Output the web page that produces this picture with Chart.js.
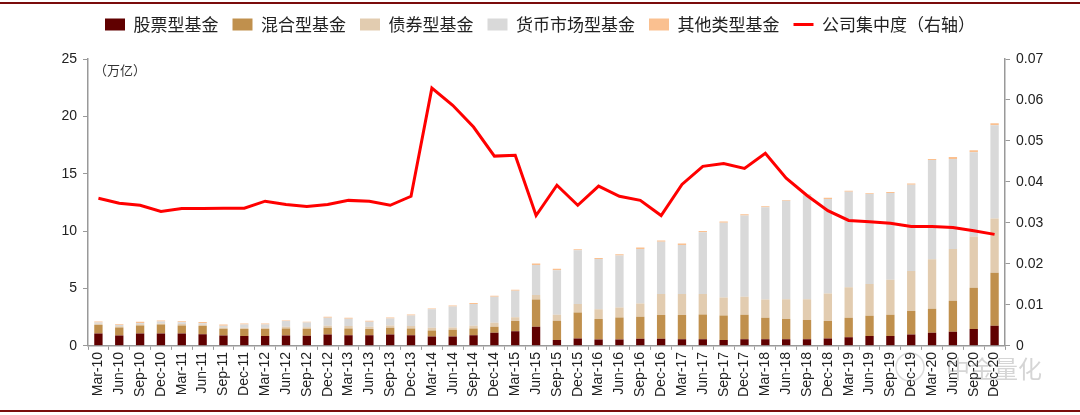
<!DOCTYPE html>
<html>
<head>
<meta charset="utf-8">
<script src="https://cdn.jsdelivr.net/npm/chart.js@4/dist/chart.umd.min.js"></script>
<style>
html,body{margin:0;padding:0;background:#fff;}
#wrap{position:relative;width:1080px;height:415px;}
canvas{display:block;}
</style>
</head>
<body>
<div id="wrap"><canvas id="c" width="1080" height="415"></canvas></div>
<script>
const categories = ["Mar-10","Jun-10","Sep-10","Dec-10","Mar-11","Jun-11","Sep-11","Dec-11","Mar-12","Jun-12","Sep-12","Dec-12","Mar-13","Jun-13","Sep-13","Dec-13","Mar-14","Jun-14","Sep-14","Dec-14","Mar-15","Jun-15","Sep-15","Dec-15","Mar-16","Jun-16","Sep-16","Dec-16","Mar-17","Jun-17","Sep-17","Dec-17","Mar-18","Jun-18","Sep-18","Dec-18","Mar-19","Jun-19","Sep-19","Dec-19","Mar-20","Jun-20","Sep-20","Dec-20"];

const stockFund = [1.08,0.90,1.08,1.08,1.08,1.02,0.90,0.85,0.85,0.90,0.88,0.99,0.93,0.93,0.99,0.93,0.82,0.82,0.93,1.14,1.28,1.66,0.50,0.64,0.55,0.55,0.61,0.61,0.58,0.58,0.52,0.58,0.58,0.58,0.58,0.64,0.76,0.85,0.85,0.99,1.14,1.22,1.46,1.75];
const mixedFund = [0.73,0.70,0.70,0.78,0.70,0.70,0.59,0.61,0.61,0.61,0.60,0.58,0.59,0.53,0.58,0.59,0.52,0.58,0.59,0.52,0.88,2.39,1.69,2.27,1.78,1.93,1.93,2.07,2.10,2.16,2.13,2.13,1.87,1.77,1.68,1.52,1.69,1.77,1.86,2.04,2.09,2.71,3.61,4.63];
const bondFund = [0.11,0.10,0.11,0.08,0.12,0.12,0.12,0.12,0.12,0.15,0.14,0.18,0.20,0.20,0.21,0.20,0.23,0.20,0.23,0.35,0.34,0.38,0.52,0.73,0.85,0.87,1.16,1.84,1.84,1.78,1.57,1.57,1.60,1.72,1.81,2.41,2.65,2.77,3.06,3.50,4.32,4.52,4.46,4.72];
const moneyFund = [0.12,0.11,0.11,0.19,0.15,0.14,0.15,0.28,0.28,0.50,0.42,0.70,0.65,0.44,0.61,0.93,1.63,1.84,1.89,2.27,2.31,2.62,3.89,4.69,4.40,4.52,4.75,4.55,4.28,5.38,6.50,7.08,8.02,8.57,9.04,8.23,8.33,7.84,7.55,7.51,8.65,7.83,7.34,8.13];
const otherFund = [0.09,0.08,0.10,0.08,0.10,0.10,0.10,0.09,0.09,0.06,0.06,0.08,0.08,0.09,0.09,0.09,0.06,0.08,0.09,0.09,0.09,0.12,0.13,0.09,0.08,0.11,0.12,0.11,0.12,0.12,0.12,0.12,0.10,0.08,0.09,0.10,0.09,0.07,0.08,0.12,0.09,0.17,0.18,0.17];
const concentration = [0.0360,0.0348,0.0343,0.0328,0.0335,0.0335,0.0336,0.0336,0.0353,0.0345,0.0340,0.0345,0.0355,0.0353,0.0343,0.0365,0.0629,0.0587,0.0534,0.0463,0.0465,0.0318,0.0392,0.0343,0.0390,0.0365,0.0355,0.0318,0.0394,0.0438,0.0445,0.0433,0.0470,0.0409,0.0367,0.0330,0.0306,0.0303,0.0299,0.0291,0.0291,0.0289,0.0281,0.0272];

const leftTicks = [0,5,10,15,20,25];
const rightTicks = [0,0.01,0.02,0.03,0.04,0.05,0.06,0.07];

const seriesNames = ["股票型基金","混合型基金","债券型基金","货币市场型基金","其他类型基金","公司集中度（右轴）"];
const unitLabel = "（万亿）";
const watermark = "中金量化";

const CJK = '"Noto Sans CJK SC", "Noto Sans", sans-serif';
const LAT = '"Liberation Sans", Arial, sans-serif';

const legendSpace = {
  id: 'legendSpace',
  afterInit(chart) {
    const lg = chart.legend;
    if (lg && !lg._patched) {
      const orig = lg.fit;
      lg.fit = function () { orig.call(this); this.height += 16; };
      lg._patched = true;
    }
  }
};

const decor = {
  id: 'decor',
  afterDraw(chart) {
    const ctx = chart.ctx;
    const a = chart.chartArea;
    ctx.save();
    ctx.fillStyle = '#7a0c0c';
    ctx.fillRect(0, 2, 1080, 2);
    ctx.fillRect(0, 410, 1080, 2);
    ctx.fillStyle = '#333';
    ctx.font = '13px ' + CJK;
    ctx.textBaseline = 'middle';
    ctx.textAlign = 'left';
    ctx.fillText(unitLabel, a.left + 6, a.top + 11);
    ctx.globalAlpha = 0.35;
    ctx.fillStyle = '#888';
    ctx.font = '24px ' + CJK;
    ctx.textAlign = 'left';
    ctx.fillText(watermark, 946, 369);
    ctx.strokeStyle = '#999';
    ctx.lineWidth = 1.5;
    ctx.beginPath();
    ctx.arc(910, 367, 14, 0, Math.PI * 2);
    ctx.stroke();
    ctx.restore();
  }
};

function barDs(label, data, color) {
  return {
    type: 'bar', label, data, backgroundColor: color, borderWidth: 0,
    yAxisID: 'y', stack: 'funds', order: 2,
    categoryPercentage: 1.0, barPercentage: 0.4,
    pointStyle: 'rect'
  };
}

new Chart(document.getElementById('c'), {
  data: {
    labels: categories,
    datasets: [
      barDs(seriesNames[0], stockFund, '#600000'),
      barDs(seriesNames[1], mixedFund, '#C0904D'),
      barDs(seriesNames[2], bondFund, '#E2CCB0'),
      barDs(seriesNames[3], moneyFund, '#D9D9D9'),
      barDs(seriesNames[4], otherFund, '#FAC090'),
      {
        type: 'line', label: seriesNames[5], data: concentration,
        borderColor: '#FF0000', backgroundColor: '#FF0000', borderWidth: 3,
        pointRadius: 0, tension: 0, yAxisID: 'y1', order: 1,
        pointStyle: 'line'
      }
    ]
  },
  options: {
    responsive: false,
    animation: false,
    layout: { padding: { top: 2, left: 10, right: 10, bottom: 16 } },
    plugins: {
      tooltip: { enabled: false },
      legend: {
        position: 'top',
        labels: {
          usePointStyle: true,
          pointStyleWidth: 20,
          boxHeight: 12,
          padding: 14,
          color: '#222',
          font: { family: CJK, size: 17 },
          sort: (a, b) => a.datasetIndex - b.datasetIndex
        }
      }
    },
    scales: {
      x: {
        stacked: true,
        grid: { display: true, drawOnChartArea: false, drawTicks: true, tickLength: 4, color: '#999', offset: true },
        border: { display: true, color: '#999', width: 1.5 },
        ticks: { autoSkip: false, maxRotation: 90, minRotation: 90, color: '#222', font: { family: LAT, size: 14 }, padding: 2 }
      },
      y: {
        stacked: true, position: 'left', min: 0, max: 25,
        afterBuildTicks(s) { s.ticks = leftTicks.map(v => ({ value: v })); },
        afterFit(s) { s.width = 78; },
        grid: { display: true, drawOnChartArea: false, drawTicks: true, tickLength: 5, color: '#999' },
        border: { display: true, color: '#999', width: 1.5 },
        ticks: { color: '#222', font: { family: LAT, size: 14 }, padding: 6 }
      },
      y1: {
        position: 'right', min: 0, max: 0.07,
        afterBuildTicks(s) { s.ticks = rightTicks.map(v => ({ value: v })); },
        afterFit(s) { s.width = 65; },
        grid: { display: true, drawOnChartArea: false, drawTicks: true, tickLength: 5, color: '#999' },
        border: { display: true, color: '#999', width: 1.5 },
        ticks: { color: '#222', font: { family: LAT, size: 14 }, padding: 6,
          callback: v => v === 0 ? '0' : v.toFixed(2) }
      }
    }
  },
  plugins: [legendSpace, decor]
});
</script>
</body>
</html>
